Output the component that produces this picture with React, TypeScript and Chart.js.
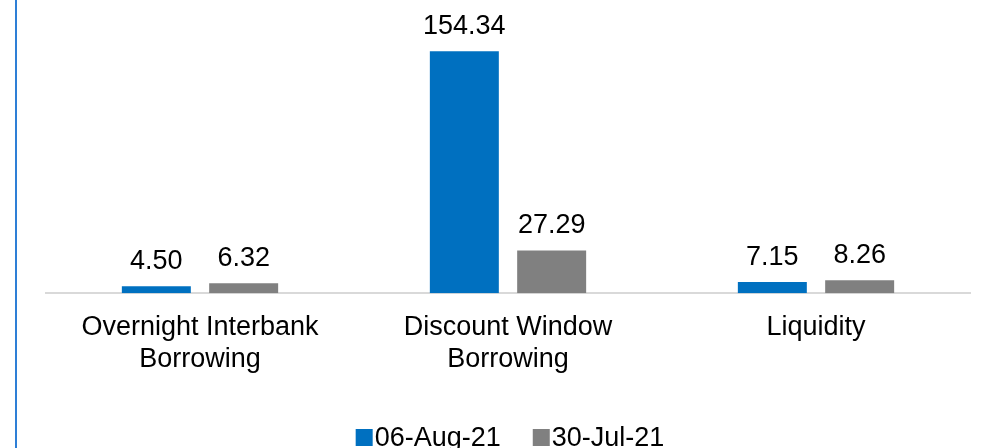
import React, { useEffect, useRef } from "react";
import { Chart, registerables } from "chart.js";

Chart.register(...registerables);

const categories: string[][] = [
  ["Overnight Interbank", "Borrowing"],
  ["Discount Window", "Borrowing"],
  ["Liquidity"],
];
const seriesNames = ["06-Aug-21", "30-Jul-21"];
const aug06 = [4.5, 154.34, 7.15];
const jul30 = [6.32, 27.29, 8.26];
const colors = ["#0070C0", "#808080"];

const FONT = "'Liberation Sans', Arial, sans-serif";

const sideLine = {
  id: "sideLine",
  beforeDraw(chart: any) {
    const ctx = chart.ctx;
    ctx.save();
    ctx.fillStyle = "#2E7FD6";
    ctx.fillRect(15, 0, 2, chart.height);
    ctx.restore();
  },
};

const valueLabels = {
  id: "valueLabels",
  afterDatasetsDraw(chart: any) {
    const ctx = chart.ctx;
    ctx.save();
    ctx.font = `27px ${FONT}`;
    ctx.fillStyle = "#000000";
    ctx.textAlign = "center";
    ctx.textBaseline = "alphabetic";
    chart.data.datasets.forEach((ds: any, i: number) => {
      const meta = chart.getDatasetMeta(i);
      meta.data.forEach((el: any, j: number) => {
        ctx.fillText(Number(ds.data[j]).toFixed(2), el.x, el.y - 17);
      });
    });
    ctx.restore();
  },
};

const customLegend = {
  id: "customLegend",
  afterDraw(chart: any) {
    const ctx = chart.ctx;
    ctx.save();
    ctx.font = `27px ${FONT}`;
    ctx.textBaseline = "alphabetic";
    ctx.textAlign = "left";
    const box = 17;
    const gap = 2;
    const itemGap = 32;
    const widths = chart.data.datasets.map((ds: any) => ctx.measureText(ds.label).width);
    const total = widths.reduce((a: number, w: number) => a + box + gap + w, 0) + itemGap * (widths.length - 1);
    const cx = (chart.chartArea.left + chart.chartArea.right) / 2 + 2;
    let x = cx - total / 2;
    const baseY = chart.height - 2;
    chart.data.datasets.forEach((ds: any, i: number) => {
      ctx.fillStyle = ds.backgroundColor;
      ctx.fillRect(x, baseY - box, box, box);
      ctx.fillStyle = "#000000";
      ctx.fillText(ds.label, x + box + gap, baseY);
      x += box + gap + widths[i] + itemGap;
    });
    ctx.restore();
  },
};

export default function App() {
  const ref = useRef<HTMLCanvasElement | null>(null);
  useEffect(() => {
    if (!ref.current) return;
    const chart = new Chart(ref.current, {
      type: "bar",
      data: {
        labels: categories,
        datasets: [
          { label: seriesNames[0], data: aug06, backgroundColor: colors[0], categoryPercentage: 0.567, barPercentage: 0.79 },
          { label: seriesNames[1], data: jul30, backgroundColor: colors[1], categoryPercentage: 0.567, barPercentage: 0.79 },
        ],
      },
      options: {
        responsive: false,
        animation: false,
        layout: { padding: { left: 46, right: 19, top: 11, bottom: 54 } },
        plugins: {
          legend: { display: false },
          tooltip: { enabled: false },
        },
        scales: {
          x: {
            grid: { display: false, drawTicks: false },
            border: { display: true, color: "#D9D9D9", width: 2 },
            ticks: {
              color: "#000000",
              font: { family: FONT, size: 27 },
              padding: 18,
              autoSkip: false,
              maxRotation: 0,
            },
          },
          y: { display: false, min: 0, max: 180 },
        },
      },
      plugins: [sideLine, valueLabels, customLegend],
    });
    return () => chart.destroy();
  }, []);
  return (
    <div style={{ position: "fixed", left: 0, top: 0, width: 989, height: 448, background: "#fff" }}>
      <canvas ref={ref} width={989} height={448} style={{ display: "block" }} />
    </div>
  );
}
